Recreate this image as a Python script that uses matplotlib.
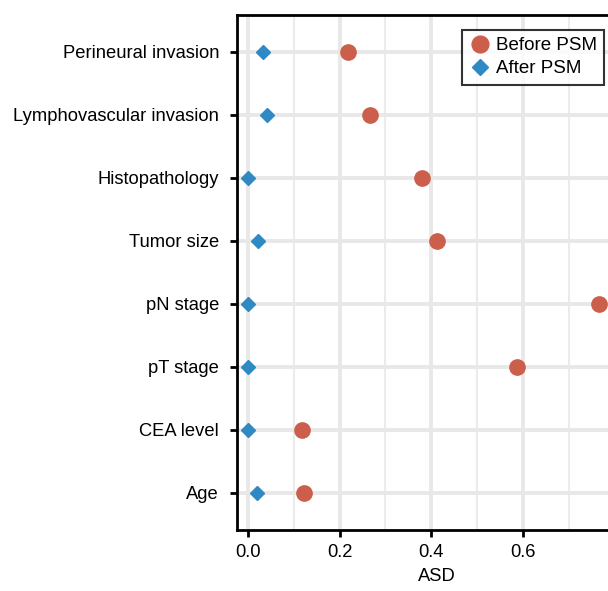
import matplotlib.pyplot as plt
from matplotlib.ticker import MultipleLocator

plt.rcParams['font.family'] = ['Liberation Sans', 'DejaVu Sans']

# covariates, bottom to top
labels = ["Age", "CEA level", "pT stage", "pN stage", "Tumor size",
          "Histopathology", "Lymphovascular invasion", "Perineural invasion"]
before_psm = [0.122, 0.118, 0.588, 0.767, 0.413, 0.380, 0.267, 0.219]
after_psm = [0.020, 0.0, 0.0, 0.0, 0.022, 0.0, 0.042, 0.033]

red = "#CB5F4B"
blue = "#2F8AC4"

fig = plt.figure(figsize=(6.08, 5.91), dpi=100)
# axes runs past the right edge of the picture (cropped like the original)
ax = fig.add_axes([0.390, 0.103, 0.658, 0.872])

pos = list(range(1, len(labels) + 1))

ax.plot(before_psm, pos, 'o', color=red, markersize=11, label="Before PSM",
        zorder=3, clip_on=False)
ax.plot(after_psm, pos, 'D', color=blue, markersize=7.5, label="After PSM",
        zorder=3, clip_on=False)

ax.set_xlim(-0.024, 0.85)
ax.set_ylim(0.41, 8.59)
ax.set_yticks(pos)
ax.set_yticklabels(labels)
ax.xaxis.set_minor_locator(MultipleLocator(0.1))
ax.set_xticks([0.0, 0.2, 0.4, 0.6])

ax.grid(True, which='major', color='#E8E8E8', linewidth=2.8, zorder=0)
ax.grid(True, which='minor', axis='x', color='#EBEBEB', linewidth=1.5, zorder=0)
ax.set_axisbelow(True)

for s in ['left', 'bottom', 'top', 'right']:
    ax.spines[s].set_linewidth(2.0)
    ax.spines[s].set_color('black')

ax.tick_params(axis='both', which='major', direction='out', length=5, width=2.0,
               labelsize=13.2, colors='black', pad=8)
ax.tick_params(axis='x', which='major', pad=5)
ax.tick_params(axis='x', which='minor', length=0)

ax.set_xlabel("ASD", fontsize=13.2, labelpad=5)

leg = ax.legend(loc='upper left', bbox_to_anchor=(0.5625, 0.971), fontsize=13.5,
                frameon=True, fancybox=False, edgecolor='black',
                borderaxespad=0, handletextpad=0.3, borderpad=0.4,
                labelspacing=0.3, handlelength=1.1, markerscale=1.1)
leg.get_frame().set_linewidth(1.5)

fig.savefig("out.png", dpi=100)
